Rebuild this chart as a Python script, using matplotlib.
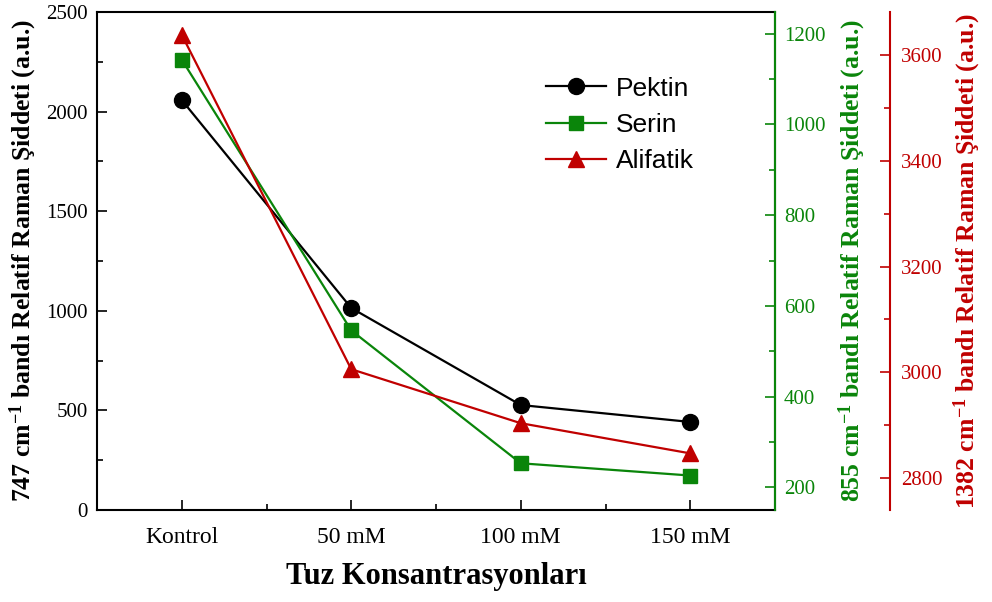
import matplotlib
matplotlib.use("Agg")
import matplotlib.pyplot as plt
from matplotlib.ticker import MultipleLocator

plt.rcParams['font.family'] = ['Liberation Serif', 'DejaVu Serif']
plt.rcParams['mathtext.fontset'] = 'custom'
plt.rcParams['mathtext.rm'] = 'Liberation Serif'
plt.rcParams['mathtext.bf'] = 'Liberation Serif:bold'
plt.rcParams['mathtext.it'] = 'Liberation Serif:italic'

categories = ['Kontrol', '50 mM', '100 mM', '150 mM']
pektin = [2058, 1014, 527, 442]
serin = [1143, 546, 253, 226]
alifatik = [3638, 3006, 2904, 2847]

GREEN = '#0a850a'
RED = '#c00000'

fig = plt.figure(figsize=(9.92, 6.02), dpi=100)
ax = fig.add_axes([97/992, 1-510/602, (775-97)/992, (510-12)/602])
ax2 = ax.twinx()
ax3 = ax.twinx()

x = list(range(len(categories)))
l1, = ax.plot(x, pektin, color='black', marker='o', ms=11.5, lw=1.6, label='Pektin')
l2, = ax2.plot(x, serin, color=GREEN, marker='s', ms=10, lw=1.6, label='Serin')
l3, = ax3.plot(x, alifatik, color=RED, marker='^', ms=11.5, lw=1.6, label='Alifatik')

ax.set_xlim(-0.5, 3.5)
ax.set_xticks(x)
ax.set_xticklabels(categories)
ax.xaxis.set_minor_locator(MultipleLocator(0.5))
ax.set_ylim(0, 2500)
ax.yaxis.set_major_locator(MultipleLocator(500))
ax.yaxis.set_minor_locator(MultipleLocator(250))
ax.tick_params(axis='both', which='both', direction='in', width=1.2)
ax.tick_params(axis='both', which='major', length=7)
ax.tick_params(axis='both', which='minor', length=4)
ax.tick_params(axis='x', which='major', pad=12, labelsize=17)
ax.tick_params(axis='y', which='major', pad=6.5, labelsize=15)
ax.tick_params(axis='y', right=False)
for s in ax.spines.values():
    s.set_linewidth(1.5)

ax.set_ylabel(r'747 cm$^{\mathbf{-1}}$ bandı Relatif Raman Şiddeti (a.u.)',
              fontsize=18.5, fontweight='bold', labelpad=5)
ax.set_xlabel('Tuz Konsantrasyonları', fontsize=22, fontweight='bold', labelpad=10)

# green axis
ax2.set_ylim(150, 1248)
ax2.yaxis.set_major_locator(MultipleLocator(200))
ax2.yaxis.set_minor_locator(MultipleLocator(100))
ax2.tick_params(axis='y', which='both', direction='in', colors=GREEN, labelsize=15, width=1.2)
ax2.tick_params(axis='y', which='major', length=7, pad=6.5)
ax2.tick_params(axis='y', which='minor', length=4)
ax2.spines['right'].set_color(GREEN)
ax2.spines['right'].set_linewidth(1.5)
for k in ['top', 'left', 'bottom']:
    ax2.spines[k].set_visible(False)
ax2.set_ylabel(r'855 cm$^{\mathbf{-1}}$ bandı Relatif Raman Şiddeti (a.u.)',
               fontsize=18.5, fontweight='bold', color=GREEN, labelpad=8)

# red axis
ax3.spines['right'].set_position(('axes', 1.17))
ax3.set_ylim(2740, 3681)
ax3.yaxis.set_major_locator(MultipleLocator(200))
ax3.yaxis.set_minor_locator(MultipleLocator(100))
ax3.tick_params(axis='y', which='both', direction='in', colors=RED, labelsize=15, width=1.2)
ax3.tick_params(axis='y', which='major', length=7, pad=8)
ax3.tick_params(axis='y', which='minor', length=4)
ax3.spines['right'].set_color(RED)
ax3.spines['right'].set_linewidth(1.5)
for k in ['top', 'left', 'bottom']:
    ax3.spines[k].set_visible(False)
ax3.set_ylabel(r'1382 cm$^{\mathbf{-1}}$ bandı Relatif Raman Şiddeti (a.u.)',
               fontsize=18.5, fontweight='bold', color=RED, labelpad=6)

leg = ax3.legend(handles=[l1, l2, l3], loc='upper left', bbox_to_anchor=(0.627, 0.918),
                 frameon=False, prop={'family': 'Liberation Sans', 'size': 19},
                 handlelength=2.27, handletextpad=0.38, labelspacing=0.47)

fig.savefig('out.png', dpi=100)
